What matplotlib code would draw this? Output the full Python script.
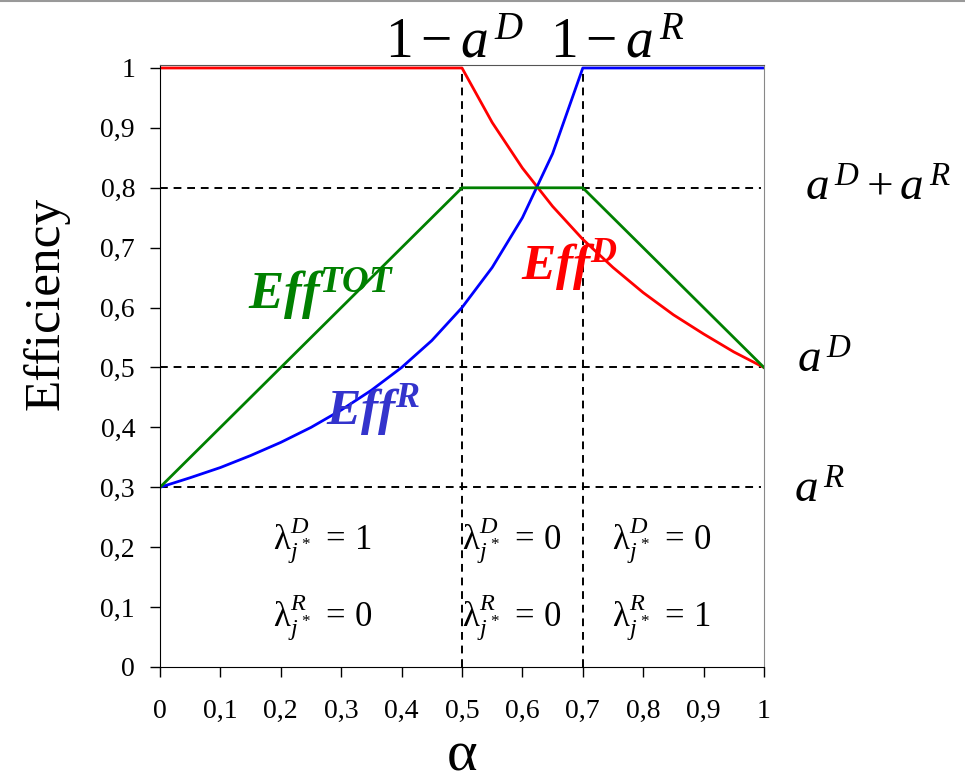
import matplotlib
matplotlib.use("Agg")
from matplotlib import pyplot as plt
from matplotlib.lines import Line2D

plt.rcParams['font.family'] = ['Liberation Serif', 'DejaVu Serif']
plt.rcParams['mathtext.fontset'] = 'custom'
plt.rcParams['mathtext.rm'] = 'Liberation Serif'
plt.rcParams['mathtext.it'] = 'Liberation Serif:italic'
plt.rcParams['mathtext.bf'] = 'Liberation Serif:italic:bold'

# alpha grid
alpha = [0, 0.05, 0.1, 0.15, 0.2, 0.25, 0.3, 0.35, 0.4, 0.45, 0.5,
         0.55, 0.6, 0.65, 0.7, 0.75, 0.8, 0.85, 0.9, 0.95, 1]
eff_d = [1, 1, 1, 1, 1, 1, 1, 1, 1, 1, 1,
         0.909, 0.833, 0.769, 0.714, 0.667, 0.625, 0.588, 0.556, 0.526, 0.5]
eff_r = [0.3, 0.316, 0.333, 0.353, 0.375, 0.4, 0.429, 0.462, 0.5, 0.545, 0.6,
         0.667, 0.75, 0.857, 1, 1, 1, 1, 1, 1, 1]
tot_x = [0, 0.5, 0.7, 1]
eff_tot = [0.3, 0.8, 0.8, 0.5]

h_levels = [0.8, 0.5, 0.3]
v_levels = [0.5, 0.7]

ticks = [0, 0.1, 0.2, 0.3, 0.4, 0.5, 0.6, 0.7, 0.8, 0.9, 1]
tick_labels = ['0', '0,1', '0,2', '0,3', '0,4', '0,5', '0,6', '0,7', '0,8', '0,9', '1']

fig = plt.figure(figsize=(9.65, 7.81), dpi=100)
ax = fig.add_axes([160 / 965, 1 - 667 / 781, 604 / 965, 602 / 781])

# reference lines
for y in h_levels:
    ax.plot([0, 0.995], [y, y], color='black', lw=1.4, ls=(0, (4, 3)))
for x in v_levels:
    ax.plot([x, x], [0, 1], color='black', lw=1.4, ls=(0, (4, 3)))

ax.plot(alpha, eff_d, color='#ff0000', lw=2)
ax.plot(alpha, eff_r, color='#0000ff', lw=2)
ax.plot(tot_x, eff_tot, color='#008000', lw=2)

ax.set_xlim(0, 1)
ax.set_ylim(0, 1.005)
ax.set_xticks(ticks)
ax.set_xticklabels(tick_labels, fontsize=20)
ax.set_yticks(ticks)
ax.set_yticklabels(tick_labels, fontsize=20)
ax.tick_params(direction='out', length=7, width=1)
ax.tick_params(axis='x', pad=16)
ax.tick_params(axis='y', pad=11)
ax.spines['top'].set_color('#555555')
ax.spines['right'].set_color('#888888')

ax.text(-0.188, 0.604, 'Efficiency', fontsize=37, rotation=90,
        ha='center', va='center', transform=ax.transAxes)
# alpha label placed by hand under the tick labels
ax.text(0.5, -0.148, 'α', fontsize=42, ha='center', va='center',
        transform=ax.transAxes)

# annotations
kw = dict(clip_on=False, color='black')
ax.text(0.488, 1.017, r'$1-a^{\,D}$', fontsize=40, ha='center', va='baseline', **kw)
ax.text(0.757, 1.017, r'$1-a^{\,R}$', fontsize=40, ha='center', va='baseline', **kw)
ax.text(1.068, 0.778, r'$a^{\,D}+a^{\,R}$', fontsize=34, ha='left', va='baseline', **kw)
ax.text(1.055, 0.492, r'$a^{\,D}$', fontsize=34, ha='left', va='baseline', **kw)
ax.text(1.05, 0.275, r'$a^{\,R}$', fontsize=34, ha='left', va='baseline', **kw)

lam = [(0.187, '1', '0'), (0.5, '0', '0'), (0.748, '0', '1')]
for x, d, r in lam:
    ax.text(x, 0.196, r'$\mathrm{λ}^{D}_{j^*}\;=\,' + d + '$', fontsize=25, **kw)
    ax.text(x, 0.067, r'$\mathrm{λ}^{R}_{j^*}\;=\,' + r + '$', fontsize=25, **kw)

ax.text(0.146, 0.597, r'$\mathbf{Eff^{TOT}}$', fontsize=38, color='#008000')
ax.text(0.275, 0.405, r'$\mathbf{Eff^{R}}$', fontsize=37, color='#3333cc')
ax.text(0.598, 0.647, r'$\mathbf{Eff^{D}}$', fontsize=37, color='#ff0000')

fig.add_artist(Line2D([0, 1], [0.999, 0.999], color='#999999', lw=1.5,
                      transform=fig.transFigure))

fig.savefig('out.png', dpi=100)
